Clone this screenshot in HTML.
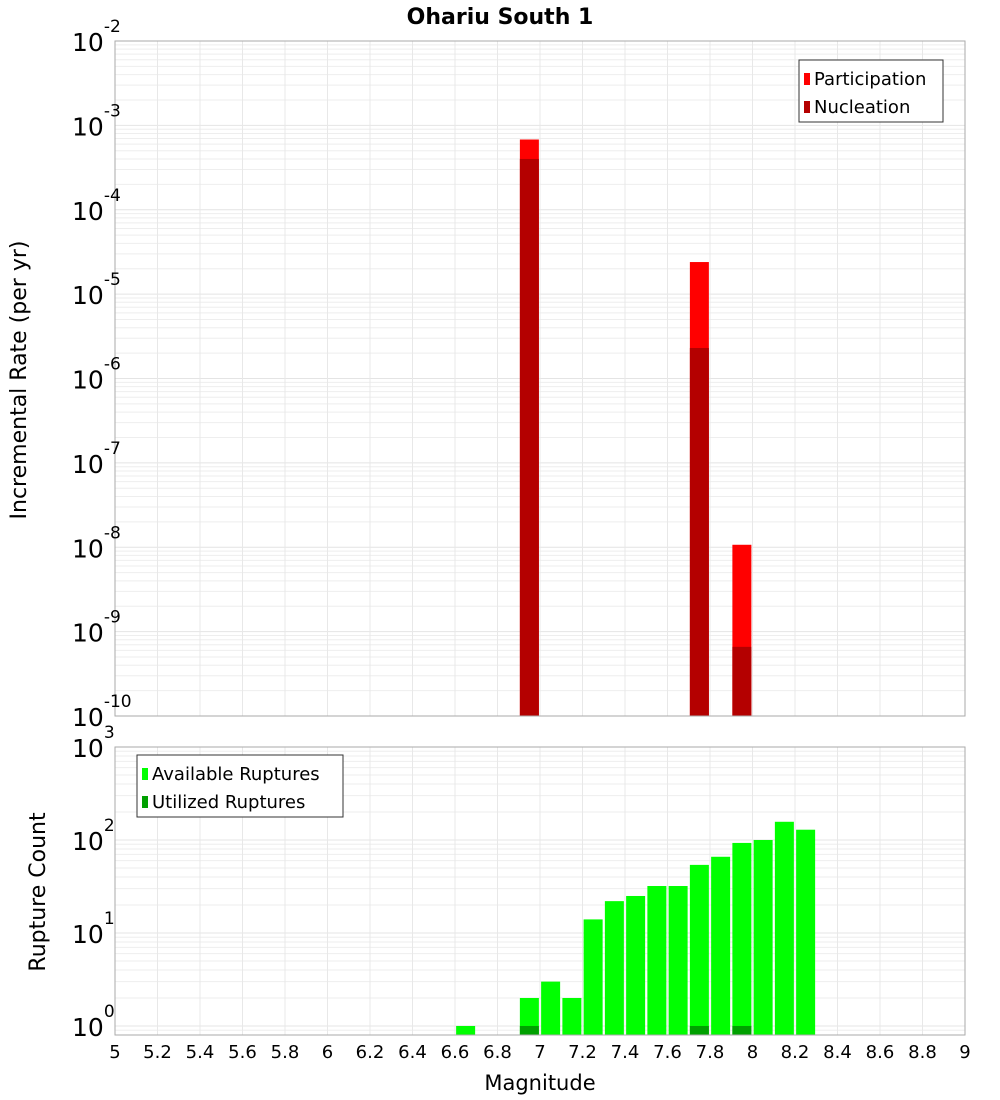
<!DOCTYPE html>
<html><head><meta charset="utf-8"><style>
body{margin:0;background:#fff;}
svg{display:block;font-family:"DejaVu Sans","Liberation Sans",sans-serif;}
</style></head><body>
<svg id="c" width="1000" height="1100" xmlns="http://www.w3.org/2000/svg"></svg>
<script>
const rateMags=[6.95,7.75,7.95];
const participation=[6.8e-4,2.4e-5,1.07e-8];
const nucleation=[4.0e-4,2.3e-6,6.6e-10];
const countMags=[6.65,6.95,7.05,7.15,7.25,7.35,7.45,7.55,7.65,7.75,7.85,7.95,8.05,8.15,8.25];
const available=[1,2,3,2,14,22,25,32,32,54,66,93,100,157,129];
const utilMags=[6.95,7.75,7.95];
const utilized=[1,1,1];
const xTicks=[5,5.2,5.4,5.6,5.8,6,6.2,6.4,6.6,6.8,7,7.2,7.4,7.6,7.8,8,8.2,8.4,8.6,8.8,9];

const svg=document.getElementById('c');
const NS='http://www.w3.org/2000/svg';
function mk(t,a,p){const e=document.createElementNS(NS,t);for(const k in a)e.setAttribute(k,a[k]);(p||svg).appendChild(e);return e;}
const L=115,R=965;
const T1=41,B1=716,T2=747,B2=1035;
const x=m=>L+(m-5)/4*(R-L);
const y1=v=>B1-(Math.log10(v)+10)/8*(B1-T1);
const c2min=-0.097;
const y2=v=>B2-(Math.log10(v)-c2min)/(3-c2min)*(B2-T2);

function grid(top,bot,yf,lo,hi){
  for(let d=lo;d<hi;d++)for(let k=1;k<10;k++){const v=k*Math.pow(10,d);const yy=yf(v);if(yy<top||yy>bot)continue;
    const g=mk('line',{x1:L,x2:R,y1:yy,y2:yy,stroke:k==1?'#e4e4e4':'#eeeeee','stroke-width':1});
    
    }
  xTicks.forEach(t=>{const g=mk('line',{x1:x(t),x2:x(t),y1:top,y2:bot,stroke:'#e8e8e8','stroke-width':1});
    
    });
}
grid(T1,B1,y1,-10,-2);
grid(T2,B2,y2,-1,3);

// title
let t=mk('text',{x:500,y:24,'text-anchor':'middle','font-size':22,'font-weight':'bold'});t.textContent='Ohariu South 1';


function bars(mags,vals,yf,bot,color,name){
  mags.forEach((m,i)=>{const yy=yf(vals[i]);const r=mk('rect',{x:x(m)-9.5,y:yy,width:19,height:bot-yy,fill:color});
    
    });
}
bars(rateMags,participation,y1,B1,'#ff0000','participation');
bars(rateMags,nucleation,y1,B1,'#b40000','nucleation');
bars(countMags,available,y2,B2,'#00ff00','available');
bars(utilMags,utilized,y2,B2,'#00a000','utilized');

// frames
let f=mk('rect',{x:L,y:T1,width:R-L,height:B1-T1,fill:'none',stroke:'#aaa'});
f=mk('rect',{x:L,y:T2,width:R-L,height:B2-T2,fill:'none',stroke:'#aaa'});

// y tick labels
function ylab(yy,exp,name){const g=mk('text',{x:72,y:yy+10,'font-size':25});
  
  g.textContent='10';const s=mk('tspan',{dy:-19,'font-size':17},g);s.textContent=exp;}
for(let e=-10;e<=-2;e++)ylab(y1(Math.pow(10,e)),String(e),'y-tick-label');
for(let e=0;e<=3;e++)ylab(y2(Math.pow(10,e)),String(e),'count-tick-label');

// x ticks
xTicks.forEach(v=>{const g=mk('text',{x:x(v),y:1058,'text-anchor':'middle','font-size':18});g.textContent=String(v);
  });

t=mk('text',{x:540,y:1090,'text-anchor':'middle','font-size':21});t.textContent='Magnitude';

t=mk('text',{x:0,y:0,'text-anchor':'middle','font-size':22,transform:'translate(26,380) rotate(-90)'});t.textContent='Incremental Rate (per yr)';

t=mk('text',{x:0,y:0,'text-anchor':'middle','font-size':22,transform:'translate(45,892) rotate(-90)'});t.textContent='Rupture Count';


// legends
function legend(lx,ly,w,items,name){
  const g=mk('g',{});
  mk('rect',{x:lx,y:ly,width:w,height:62,fill:'#fff',stroke:'#333'},g);
  items.forEach((it,i)=>{mk('rect',{x:lx+5,y:ly+13+i*28,width:6,height:12,fill:it[1]},g);
    const tx=mk('text',{x:lx+15,y:ly+25+i*28,'font-size':18},g);tx.textContent=it[0];});
}
legend(799,60,144,[['Participation','#ff0000'],['Nucleation','#b40000']],'rate-legend');
legend(137,755,206,[['Available Ruptures','#00ff00'],['Utilized Ruptures','#00a000']],'count-legend');
</script>
</body></html>
